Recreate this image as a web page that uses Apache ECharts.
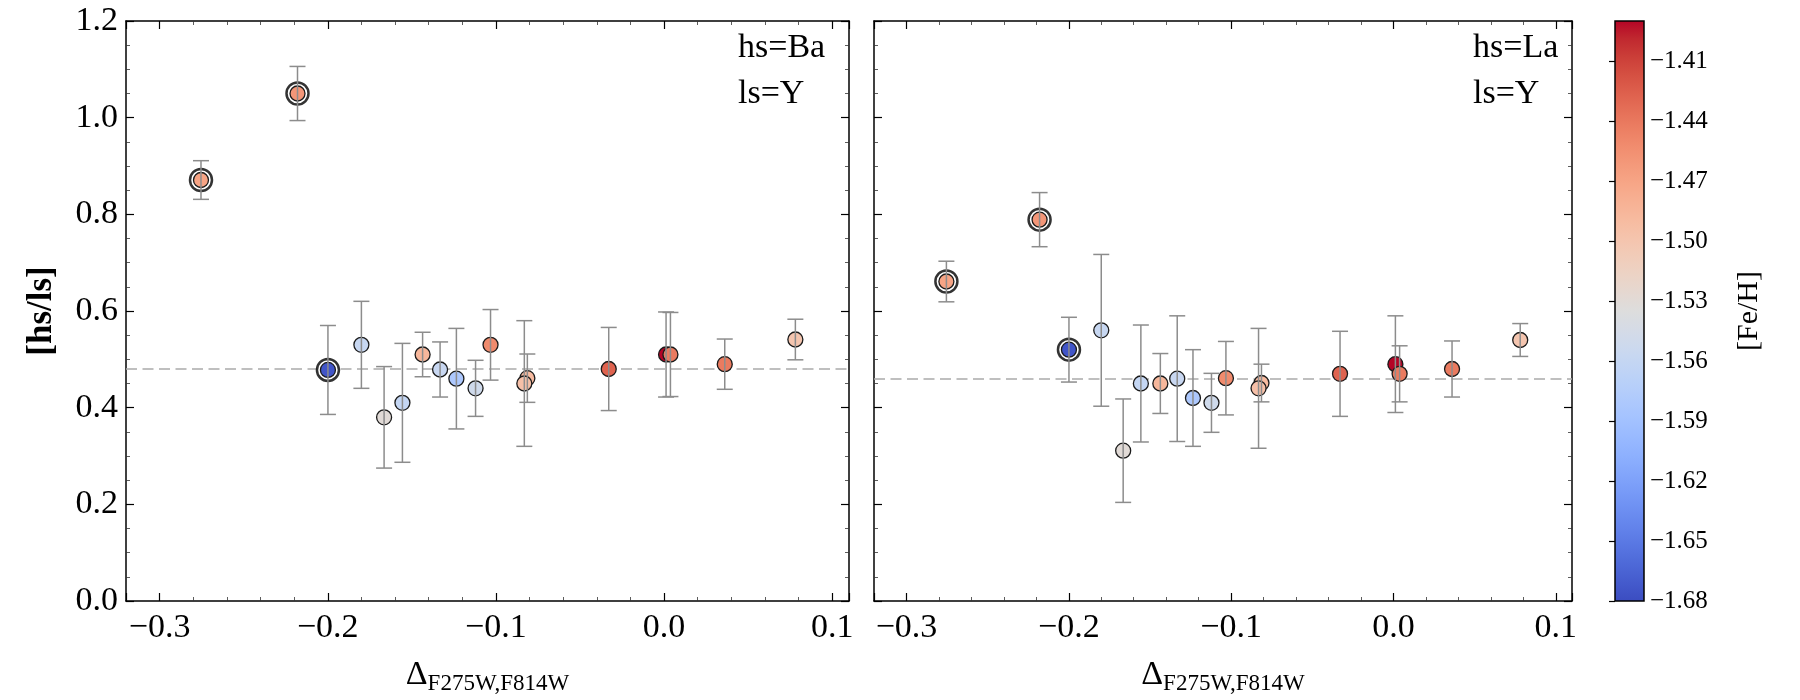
<!DOCTYPE html>
<html>
<head>
<meta charset="utf-8">
<script src="https://cdn.jsdelivr.net/npm/echarts@6/dist/echarts.min.js"></script>
<style>
html,body{margin:0;padding:0;background:#fff;}
#chart{width:1800px;height:700px;}
</style>
</head>
<body>
<div id="chart"></div>
<script>
// ---- data ----
const deltaX = [-0.2754, -0.2180, -0.1999, -0.1800, -0.1665, -0.1556, -0.1436, -0.1332, -0.1235, -0.1121, -0.1032, -0.0813, -0.0831, -0.0329, 0.0012, 0.0038, 0.0361, 0.0781];
const fehVals = [-1.47, -1.46, -1.674, -1.558, -1.53, -1.56, -1.486, -1.557, -1.581, -1.55, -1.452, -1.49, -1.495, -1.428, -1.39, -1.442, -1.442, -1.50];
const baY   = [0.871, 1.050, 0.478, 0.530, 0.380, 0.410, 0.510, 0.479, 0.460, 0.440, 0.530, 0.461, 0.450, 0.480, 0.510, 0.510, 0.490, 0.541];
const baErr = [0.040, 0.056, 0.092, 0.090, 0.105, 0.123, 0.046, 0.057, 0.104, 0.058, 0.073, 0.050, 0.130, 0.086, 0.088, 0.087, 0.052, 0.042];
const laY   = [0.661, 0.789, 0.520, 0.560, 0.311, 0.450, 0.450, 0.460, 0.420, 0.410, 0.461, 0.451, 0.440, 0.470, 0.490, 0.470, 0.480, 0.540];
const laErr = [0.042, 0.056, 0.067, 0.157, 0.107, 0.121, 0.062, 0.130, 0.100, 0.061, 0.076, 0.039, 0.124, 0.088, 0.100, 0.058, 0.058, 0.034];
const circledIdx = [0, 1, 2];
const meanBa = 0.478;
const meanLa = 0.455;
const xRange = [-0.32, 0.11];
const yRange = [0, 1.2];
const fehRange = [-1.68, -1.39];
const panelLabels = [['hs=Ba', 'ls=Y'], ['hs=La', 'ls=Y']];
const yAxisTitle = '[hs/ls]';
const cbarTitle = '[Fe/H]';
// matplotlib "coolwarm"
const COOLWARM = [[59,76,192],[68,90,204],[77,104,215],[87,117,225],[98,130,234],[108,142,241],[119,154,247],[130,165,251],[141,176,254],[152,185,255],[163,194,255],[174,201,253],[184,208,249],[194,213,244],[204,217,238],[213,219,230],[221,221,221],[229,216,209],[236,211,197],[241,204,185],[245,196,173],[247,187,160],[247,177,148],[247,166,135],[244,154,123],[241,141,111],[236,127,99],[229,112,88],[222,96,77],[213,80,66],[203,62,56],[192,40,47],[180,4,38]].map(c => 'rgb(' + c.join(',') + ')');

// ---- helpers ----
const FONT = "'Liberation Serif', 'Times New Roman', serif";
const minus = s => s.replace('-', '\u2212');
const fmt1 = v => minus((Math.abs(v) < 1e-9 ? 0 : v).toFixed(1));
const fmt2 = v => minus(v.toFixed(2));

function ptData(ys) { return deltaX.map((x, i) => [x, ys[i], fehVals[i]]); }
function errData(ys, es) { return deltaX.map((x, i) => [x, ys[i], es[i]]); }
function ringData(ys) { return circledIdx.map(i => [deltaX[i], ys[i]]); }

function errRender(params, api) {
  const x = api.value(0), y = api.value(1), e = api.value(2);
  const t = api.coord([x, y + e]), b = api.coord([x, y - e]);
  const hw = 8;
  const st = { stroke: '#8c8c8c', lineWidth: 1.5, fill: null };
  return { type: 'group', children: [
    { type: 'line', shape: { x1: t[0], y1: t[1], x2: b[0], y2: b[1] }, style: st },
    { type: 'line', shape: { x1: t[0] - hw, y1: t[1], x2: t[0] + hw, y2: t[1] }, style: st },
    { type: 'line', shape: { x1: b[0] - hw, y1: b[1], x2: b[0] + hw, y2: b[1] }, style: st }
  ]};
}

const tickLine = { color: '#000', width: 1.2 };
function xAx(grid, pos, withLabel) {
  const o = {
    type: 'value', gridIndex: grid, position: pos, min: xRange[0], max: xRange[1], splitNumber: 5,
    axisLine: { show: true, onZero: false, lineStyle: { color: '#000', width: 1.5 } },
    axisTick: { show: true, inside: true, length: 8, lineStyle: tickLine },
    minorTick: { show: true, splitNumber: 5, length: 4, lineStyle: { color: '#333', width: 0.8 } },
    splitLine: { show: false },
    axisLabel: { show: withLabel, showMinLabel: false, showMaxLabel: false, margin: 10, formatter: fmt1,
      fontFamily: FONT, fontSize: 34, color: '#000' }
  };
  if (withLabel) {
    o.name = '{d|\u0394}{s|F275W,F814W}';
    o.nameLocation = 'middle';
    o.nameGap = 54;
    o.nameTextStyle = { fontFamily: FONT, color: '#000', rich: {
      d: { fontFamily: FONT, fontSize: 34, color: '#000', verticalAlign: 'bottom', padding: [0, 0, 3, 0], lineHeight: 40 },
      s: { fontFamily: FONT, fontSize: 23, color: '#000', verticalAlign: 'bottom', lineHeight: 40 }
    }};
  }
  return o;
}
function yAx(grid, pos, withLabel) {
  const o = {
    type: 'value', gridIndex: grid, position: pos, min: yRange[0], max: yRange[1], interval: 0.2,
    axisLine: { show: true, onZero: false, lineStyle: { color: '#000', width: 1.5 } },
    axisTick: { show: true, inside: true, length: 8, lineStyle: tickLine },
    minorTick: { show: true, splitNumber: 4, length: 4, lineStyle: { color: '#333', width: 0.8 } },
    splitLine: { show: false },
    axisLabel: { show: withLabel, margin: 8, formatter: fmt1, fontFamily: FONT, fontSize: 34, color: '#000' }
  };
  if (withLabel) {
    o.name = yAxisTitle;
    o.nameLocation = 'middle';
    o.nameGap = 67;
    o.nameRotate = 90;
    o.nameTextStyle = { fontFamily: FONT, fontSize: 35, fontWeight: 'bold', color: '#000' };
  }
  return o;
}

const gridBase = { top: 21, height: 580, outerBoundsMode: 'none', containLabel: false };

const chart = echarts.init(document.getElementById('chart'), null, { renderer: 'canvas' });

function panelSeries(xi, yi, ys, es, mean) {
  return [
    { type: 'custom', xAxisIndex: xi, yAxisIndex: yi, data: errData(ys, es), renderItem: errRender,
      encode: { x: 0, y: 1 }, z: 6, silent: true, clip: false },
    { type: 'scatter', xAxisIndex: xi, yAxisIndex: yi, data: ringData(ys), symbol: 'circle', symbolSize: 22,
      itemStyle: { color: '#fff', borderColor: '#000', borderWidth: 2.5 }, z: 3, silent: true,
      markLine: { silent: true, symbol: 'none', z: 1, label: { show: false },
        lineStyle: { color: '#aaaaaa', width: 1.5, type: [11, 5.5] },
        emphasis: { disabled: true },
        data: [{ yAxis: mean }] } },
    { type: 'scatter', xAxisIndex: xi, yAxisIndex: yi, data: ptData(ys), symbol: 'circle', symbolSize: 15,
      itemStyle: { borderColor: '#1a1a1a', borderWidth: 1.3, opacity: 1 }, z: 4, silent: true }
  ];
}

const LABEL_FONT = "34px " + FONT;
const option = {
  backgroundColor: '#fff',
  animation: false,
  grid: [
    Object.assign({ left: 126, width: 723 }, gridBase),
    Object.assign({ left: 874, width: 698 }, gridBase),
    Object.assign({ left: 1615, width: 29 }, gridBase)
  ],
  xAxis: [
    xAx(0, 'bottom', true), xAx(0, 'top', false),
    xAx(1, 'bottom', true), xAx(1, 'top', false),
    { type: 'value', gridIndex: 2, min: 0, max: 1, show: false }
  ],
  yAxis: [
    yAx(0, 'left', true), yAx(0, 'right', false),
    yAx(1, 'left', false), yAx(1, 'right', false),
    { type: 'value', gridIndex: 2, position: 'right', min: fehRange[0], max: fehRange[1], interval: 0.03, z: 10,
      axisLine: { show: false },
      axisTick: { show: true, inside: true, length: 6, lineStyle: { color: '#000', width: 1.2 } },
      splitLine: { show: false },
      axisLabel: { show: true, showMaxLabel: false, margin: 6, formatter: fmt2, fontFamily: FONT, fontSize: 25, color: '#000' },
      name: cbarTitle, nameLocation: 'middle', nameRotate: 90, nameGap: 90,
      nameTextStyle: { fontFamily: FONT, fontSize: 30, color: '#000' } }
  ],
  visualMap: [{ type: 'continuous', show: false, min: fehRange[0], max: fehRange[1], dimension: 2,
    seriesIndex: [2, 5], inRange: { color: COOLWARM } }],
  series: [
    ...panelSeries(0, 0, baY, baErr, meanBa),
    ...panelSeries(2, 2, laY, laErr, meanLa),
    { type: 'custom', xAxisIndex: 4, yAxisIndex: 4, data: [[0, fehRange[0], fehRange[1]]], silent: true, z: 2,
      renderItem: function (params, api) {
        const p1 = api.coord([0, api.value(2)]);
        const p2 = api.coord([1, api.value(1)]);
        const stops = COOLWARM.map((c, i) => ({ offset: i / (COOLWARM.length - 1), color: c }));
        return { type: 'rect', shape: { x: p1[0], y: p1[1], width: p2[0] - p1[0], height: p2[1] - p1[1] },
          style: { fill: new echarts.graphic.LinearGradient(0, 1, 0, 0, stops), stroke: '#000', lineWidth: 1.5 } };
      } }
  ],
  graphic: [
    { type: 'text', left: 738, top: 31, style: { text: panelLabels[0][0], font: LABEL_FONT, fill: '#000' } },
    { type: 'text', left: 738, top: 77, style: { text: panelLabels[0][1], font: LABEL_FONT, fill: '#000' } },
    { type: 'text', left: 1473, top: 31, style: { text: panelLabels[1][0], font: LABEL_FONT, fill: '#000' } },
    { type: 'text', left: 1473, top: 77, style: { text: panelLabels[1][1], font: LABEL_FONT, fill: '#000' } }
  ]
};
chart.setOption(option);
</script>
</body>
</html>
